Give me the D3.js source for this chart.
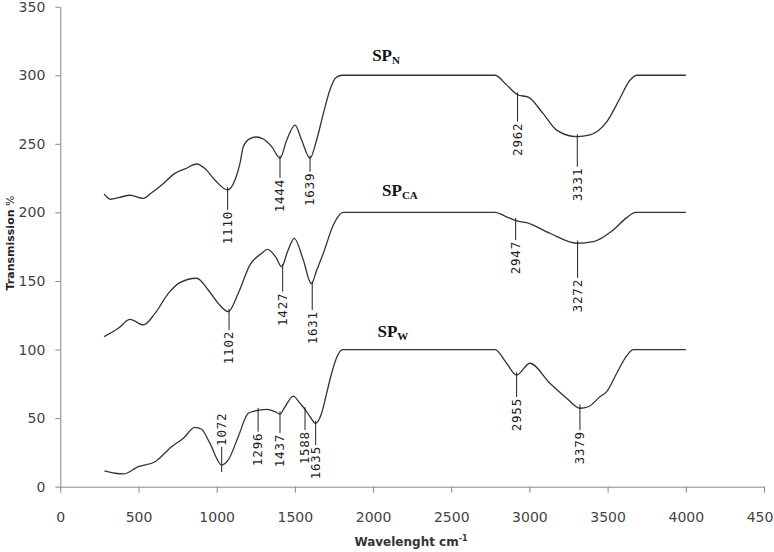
<!DOCTYPE html>
<html>
<head>
<meta charset="utf-8">
<script src="https://cdn.jsdelivr.net/npm/d3@7"></script>
<style>
  body { margin: 0; background: #fff; }
  svg { display: block; }
</style>
</head>
<body>
<svg id="chart" width="774" height="552"></svg>
<script>
// wavenumber (cm-1) / transmission readings, one pair of arrays per spectrum
const spnX  = [280, 320, 380, 446, 530, 580, 648, 733, 797, 872, 925, 989, 1070, 1117, 1149, 1170, 1213, 1255, 1298, 1352, 1405, 1448, 1501, 1543, 1597, 1639, 1682, 1724, 1760, 1800, 2780, 2854, 2924, 2993, 3088, 3174, 3302, 3387, 3494, 3579, 3640, 3690, 4000]
const spnY  = [213.5, 209.6, 211, 212.5, 210.3, 214, 220, 228.5, 231.7, 235.3, 232, 223.6, 216.4, 223.6, 235.8, 247.9, 253.8, 255, 253.5, 248, 239.5, 252.8, 263.7, 252.8, 239.5, 252.8, 272, 289.3, 298, 300, 300, 293, 285.8, 284, 272, 260, 255.2, 256.5, 266, 283.2, 296, 300, 300]

const spcaX = [280, 371, 446, 531, 606, 691, 765, 872, 946, 1010, 1074, 1138, 1213, 1288, 1325, 1380, 1415, 1455, 1496, 1554, 1605, 1640, 1682, 1746, 1780, 1810, 2780, 2850, 2912, 2982, 3131, 3302, 3408, 3536, 3620, 3680, 4000]
const spcaY = [109.4, 115.5, 122, 118, 126.4, 141, 148.8, 152, 143.4, 133.7, 127.6, 141, 161.7, 170.2, 173, 167, 160.4, 172, 181.1, 165.3, 148, 158, 170.2, 190.8, 197.5, 200, 200, 197, 194, 192.5, 184.8, 177.5, 178.7, 187.2, 196, 200, 200]

const spwX  = [282, 350, 403, 499, 606, 712, 787, 861, 904, 957, 1032, 1074, 1138, 1202, 1245, 1320, 1373, 1405, 1437, 1490, 1533, 1565, 1597, 1633, 1671, 1703, 1735, 1770, 1805, 2780, 2854, 2918, 3003, 3131, 3238, 3323, 3376, 3451, 3494, 3558, 3611, 3664, 4000]
const spwY  = [11.5, 9.8, 9.3, 14.6, 18.2, 29.2, 35.3, 43.3, 41.9, 31.6, 15.8, 19.5, 36.5, 53.5, 55.2, 56.4, 54.7, 53, 58.3, 66.1, 60.8, 56.4, 51, 46.2, 53.5, 68.1, 82.7, 95, 100, 100, 90, 81.4, 90, 75.4, 64.5, 57.2, 58.3, 65.6, 69.3, 82.7, 93.6, 100, 100]

// peak markers: position, label, top and bottom of the marker line
const peakX     = [1070, 1405, 1597, 2924, 3306, 1079, 1422, 1611, 2912, 3308, 1032, 1265, 1405, 1565, 1633, 2918, 3323]
const peakText  = ['1110', '1444', '1639', '2962', '3331', '1102', '1427', '1631', '2947', '3272', '1072', '1296', '1437', '1588', '1635', '2955', '3379']
const peakTop   = [218.5, 241.5, 241.5, 287.5, 257, 129.6, 162.4, 150, 196, 179.5, 29, 57.5, 55, 58, 48, 83.4, 60]
const peakBot   = [201.8, 225.1, 229.7, 266.2, 233.3, 114.3, 142.2, 128.8, 179.9, 152.2, 10.7, 40.1, 39.2, 41.3, 30.4, 65.4, 41.3]
const peakUp    = [false, false, false, false, false, false, false, false, false, false, true, false, false, false, false, false, false]

const seriesName = ['SP', 'SP', 'SP']
const seriesSub  = ['N', 'CA', 'W']
const seriesLabX = [2083, 2172, 2127]
const seriesLabY = [310.5, 212, 109]

const xTicks = d3.range(0, 4501, 500)
const yTicks = d3.range(0, 351, 50)

const svg = d3.select('#chart')
const x = d3.scaleLinear().domain([0, 4500]).range([60.3, 764])
const y = d3.scaleLinear().domain([0, 350]).range([486.7, 6.7])

const axisColor = '#888'
const textColor = '#444'

// axes
const gx = svg.append('g')
    .attr('transform', `translate(0,${y(0)})`)
    .call(d3.axisBottom(x).tickValues(xTicks).tickFormat(d3.format('d'))
        .tickSize(6).tickSizeOuter(0).tickPadding(19))
const gy = svg.append('g')
    .attr('transform', `translate(${x(0)},0)`)
    .call(d3.axisLeft(y).tickValues(yTicks).tickFormat(d3.format('d'))
        .tickSize(5).tickSizeOuter(0).tickPadding(10))

for (const g of [gx, gy]) {
    g.select('.domain').attr('stroke', axisColor)
    g.selectAll('.tick line').attr('stroke', axisColor)
    g.selectAll('.tick text')
        .attr('fill', textColor)
        .style('font-family', '"DejaVu Sans", Verdana, sans-serif')
        .style('font-size', '14px')
}

// axis titles
const xt = svg.append('text')
    .attr('x', 411).attr('y', 546)
    .attr('text-anchor', 'middle')
    .attr('fill', '#333')
    .style('font-family', '"DejaVu Sans", Verdana, sans-serif')
    .style('font-size', '12px')
    .style('font-weight', 'bold')
xt.append('tspan').text('Wavelenght cm')
xt.append('tspan').attr('dy', -5).style('font-size', '8px').text('-1')

const yt = svg.append('text')
    .attr('transform', 'translate(14,243) rotate(-90)')
    .attr('text-anchor', 'middle')
    .attr('fill', '#222')
    .style('font-family', '"DejaVu Sans", Verdana, sans-serif')
    .style('font-size', '11px')
yt.append('tspan').style('font-weight', 'bold').text('Transmission')
yt.append('tspan').text('  %')

// spectra
const line = d3.line()
    .x(d => x(d[0]))
    .y(d => y(d[1]))
    .curve(d3.curveMonotoneX)

const series = [[spnX, spnY], [spcaX, spcaY], [spwX, spwY]]
series.forEach(([xs, ys]) => {
    svg.append('path')
        .datum(d3.zip(xs, ys))
        .attr('d', line)
        .attr('fill', 'none')
        .attr('stroke', '#333')
        .attr('stroke-width', 1.3)
})

// peak markers and labels
const peaks = svg.append('g')
peakX.forEach((px, i) => {
    peaks.append('line')
        .attr('x1', x(px)).attr('x2', x(px))
        .attr('y1', y(peakTop[i])).attr('y2', y(peakBot[i]))
        .attr('stroke', '#222')
        .attr('stroke-width', 1)
    const ay = peakUp[i] ? y(peakTop[i]) - 1 : y(peakBot[i]) + 1
    peaks.append('text')
        .attr('transform', `translate(${x(px)},${ay}) rotate(-90)`)
        .attr('text-anchor', peakUp[i] ? 'start' : 'end')
        .attr('dy', '0.35em')
        .attr('fill', '#222')
        .style('font-family', '"DejaVu Sans Mono", monospace')
        .style('font-size', '12.5px')
        .style('letter-spacing', '0.8px')
        .text(peakText[i])
})

// series names with subscripts
seriesName.forEach((name, i) => {
    const t = svg.append('text')
        .attr('x', x(seriesLabX[i])).attr('y', y(seriesLabY[i]))
        .attr('text-anchor', 'middle')
        .attr('fill', '#111')
        .style('font-family', '"Liberation Serif", "Times New Roman", serif')
        .style('font-size', '17px')
        .style('font-weight', 'bold')
    t.append('tspan').text(name)
    t.append('tspan').attr('dy', 3).style('font-size', '11px').text(seriesSub[i])
})
</script>
</body>
</html>
